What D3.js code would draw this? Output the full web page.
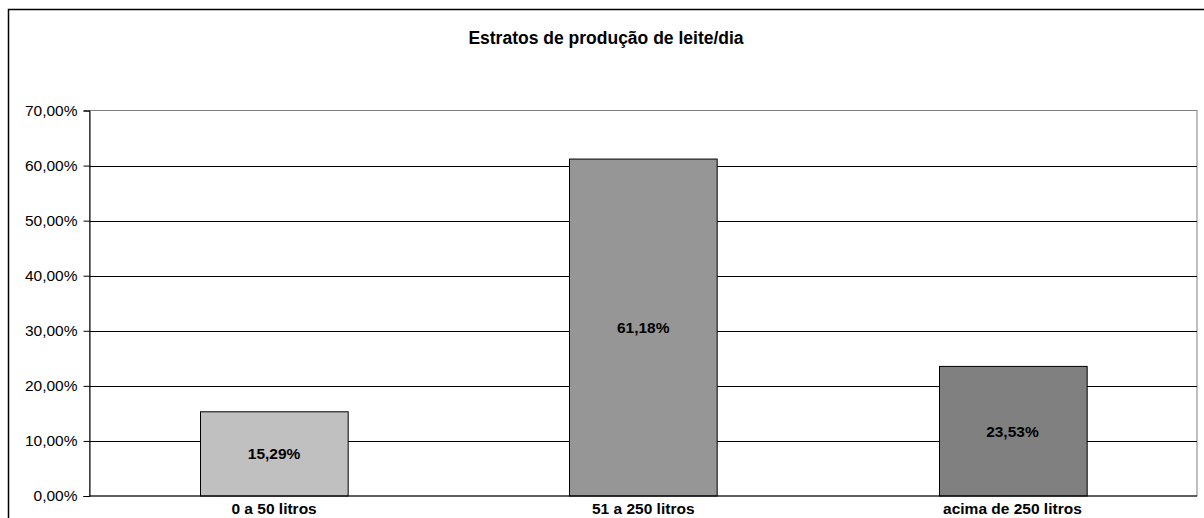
<!DOCTYPE html>
<html>
<head>
<meta charset="utf-8">
<script src="https://cdn.jsdelivr.net/npm/d3@7"></script>
<style>
  body { margin: 0; background: #fff; }
  svg { display: block; font-family: Arial, "Liberation Sans", sans-serif; }
</style>
</head>
<body>
<div id="chart"></div>
<script>
// dados
const categorias = ["0 a 50 litros", "51 a 250 litros", "acima de 250 litros"];
const valores = [15.29, 61.18, 23.53];
const cores = ["#c0c0c0", "#969696", "#808080"];
const ticks = [0, 10, 20, 30, 40, 50, 60, 70];
const titulo = "Estratos de produção de leite/dia";

const width = 1204;
const height = 518;
const marginTop = 110.5;
const marginRight = 7;
const marginBottom = 22;
const marginLeft = 89.5;

const fmt = v => v.toFixed(2).replace(".", ",") + "%";

const svg = d3.select("#chart").append("svg")
    .attr("width", width)
    .attr("height", height)
    .attr("viewBox", [0, 0, width, height]);

// moldura externa
svg.append("rect")
    .attr("x", 8.5)
    .attr("y", 9.5)
    .attr("width", width + 20)
    .attr("height", height + 20)
    .attr("fill", "none")
    .attr("stroke", "#000")
    .attr("stroke-width", 1.5);

const x = d3.scaleBand(categorias, [marginLeft, width - marginRight])
    .paddingInner(0.6)
    .paddingOuter(0.3);

const y = d3.scaleLinear([0, 70], [height - marginBottom, marginTop]);

// área do gráfico
svg.append("rect")
    .attr("x", marginLeft)
    .attr("y", marginTop)
    .attr("width", width - marginRight - marginLeft)
    .attr("height", height - marginBottom - marginTop)
    .attr("fill", "#fff")
    .attr("stroke", "#808080");

// linhas de grade
svg.append("g")
    .selectAll("line")
    .data(ticks.slice(1, -1))
    .join("line")
      .attr("x1", marginLeft)
      .attr("x2", width - marginRight)
      .attr("y1", d => Math.round(y(d)) + 0.5)
      .attr("y2", d => Math.round(y(d)) + 0.5)
      .attr("stroke", "#000");

// eixo y
svg.append("g")
    .attr("transform", `translate(${marginLeft},0)`)
    .call(d3.axisLeft(y).tickValues(ticks).tickSize(6).tickPadding(6).tickFormat(fmt))
    .call(g => g.select(".domain").attr("stroke", "#000"))
    .call(g => g.selectAll(".tick text")
      .attr("fill", "#000")
      .style("font-size", "15.5px")
      .style("font-family", "Arial, 'Liberation Sans', sans-serif"));

// barras
svg.append("g")
    .selectAll("rect")
    .data(valores)
    .join("rect")
      .attr("x", (d, i) => Math.round(x(categorias[i])) + 0.5)
      .attr("y", d => y(d))
      .attr("width", x.bandwidth())
      .attr("height", d => y(0) - y(d))
      .attr("fill", (d, i) => cores[i])
      .attr("stroke", "#000");

// linha do eixo x
svg.append("line")
    .attr("x1", marginLeft)
    .attr("x2", width - marginRight)
    .attr("y1", y(0))
    .attr("y2", y(0))
    .attr("stroke", "#000");

// rótulos de dados
svg.append("g")
    .selectAll("text")
    .data(valores)
    .join("text")
      .attr("x", (d, i) => x(categorias[i]) + x.bandwidth() / 2)
      .attr("y", d => (y(d) + y(0)) / 2)
      .attr("dy", "0.35em")
      .attr("text-anchor", "middle")
      .style("font-size", "15.5px")
      .style("font-weight", "bold")
      .text(fmt);

// categorias
svg.append("g")
    .selectAll("text")
    .data(categorias)
    .join("text")
      .attr("x", d => x(d) + x.bandwidth() / 2)
      .attr("y", 513.5)
      .attr("text-anchor", "middle")
      .style("font-size", "15.5px")
      .style("font-weight", "bold")
      .text(d => d);

// título
svg.append("text")
    .attr("x", 606)
    .attr("y", 43.5)
    .attr("text-anchor", "middle")
    .style("font-size", "17.5px")
    .style("font-weight", "bold")
    .text(titulo);
</script>
</body>
</html>
